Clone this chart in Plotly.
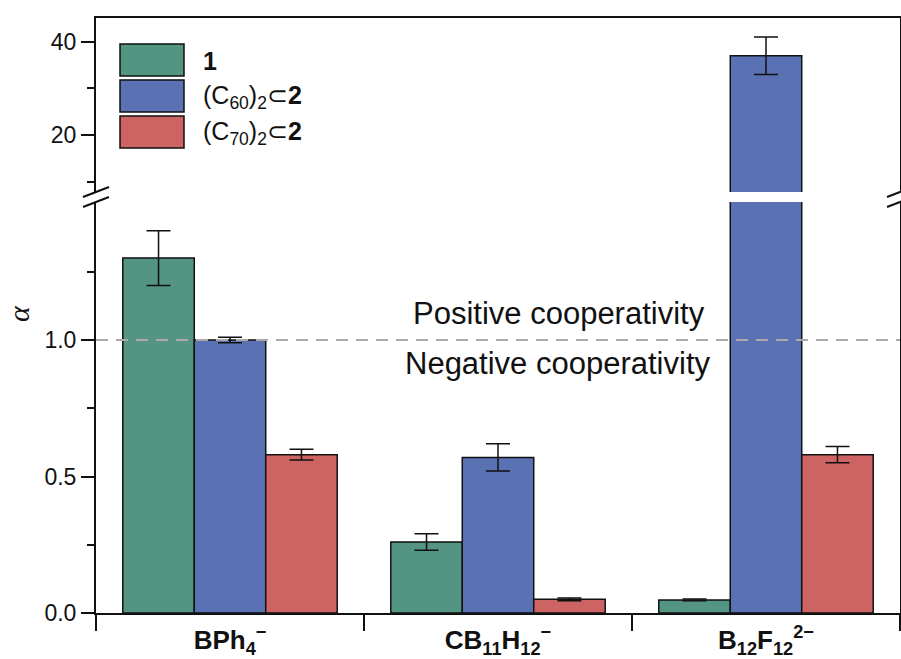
import plotly.graph_objects as go

# ---------------- data ----------------
categories = ["<b>BPh<sub>4</sub><sup>−</sup></b>",
              "<b>CB<sub>11</sub>H<sub>12</sub><sup>−</sup></b>",
              "<b>B<sub>12</sub>F<sub>12</sub><sup>2−</sup></b>"]
series_names = ["<b>1</b>",
                "(C<sub>60</sub>)<sub>2</sub>⊂<b>2</b>",
                "(C<sub>70</sub>)<sub>2</sub>⊂<b>2</b>"]
vals_1 = [1.30, 0.26, 0.048]
err_1 = [0.10, 0.03, 0.003]
vals_c60 = [1.00, 0.57, 37.0]
err_c60 = [0.01, 0.05, 4.0]
vals_c70 = [0.58, 0.05, 0.58]
err_c70 = [0.02, 0.005, 0.03]
colors = ["#539482", "#5A72B4", "#CD6363"]

lower_ticks = [0.0, 0.5, 1.0]
lower_ticktext = ["0.0", "0.5", "1.0"]
lower_minor = [0.25, 0.75, 1.25]
upper_ticks = [20, 40]
upper_minor = [10, 30]

# --------------- geometry helpers (pixel -> paper) ---------------
L, R, T, B = 96, 900, 18, 613
W, H = R - L, B - T


def px(x):
    return (x - L) / W


def py(y):
    return (B - y) / H


FONT = "Liberation Sans, Arial, sans-serif"
fig = go.Figure()

all_vals = [vals_1, vals_c60, vals_c70]
all_errs = [err_1, err_c60, err_c70]
for name, v, e, c in zip(series_names, all_vals, all_errs, colors):
    for xa, ya in (("x", "y"), ("x2", "y2")):
        fig.add_trace(go.Bar(
            x=categories, y=v, name=name, xaxis=xa, yaxis=ya,
            marker=dict(color=c, line=dict(color="#111111", width=1.5)),
            error_y=dict(type="data", array=e, color="#111111",
                         thickness=1.5, width=12),
            showlegend=False, cliponaxis=True,
        ))

axis_common = dict(showline=True, linecolor="#111111", linewidth=2,
                   showgrid=False, zeroline=False, automargin=False)

fig.update_layout(
    width=901, height=659,
    margin=dict(l=L, r=901 - R, t=T, b=659 - B, autoexpand=False),
    paper_bgcolor="white", plot_bgcolor="white",
    barmode="group", bargap=0.2, bargroupgap=0,
    font=dict(family=FONT, color="#111111", size=23),
    xaxis=dict(**axis_common, type="category", anchor="y",
               tickson="boundaries", ticks="outside", ticklen=16,
               tickwidth=2, tickcolor="#111111", ticklabelstandoff=3,
               tickfont=dict(size=26), domain=[0, 1]),
    xaxis2=dict(**axis_common, type="category", anchor="y2", matches="x",
                side="top", showticklabels=False, ticks=""),
    yaxis=dict(**axis_common, mirror=True, domain=[0, py(202)],
               range=[0, (B - 202) / 273.0], tickvals=lower_ticks,
               ticktext=lower_ticktext, ticks="outside", ticklen=13,
               tickwidth=2, tickcolor="#111111",
               minor=dict(tickvals=lower_minor, ticks="outside", ticklen=7,
                          tickwidth=2, tickcolor="#111111")),
    yaxis2=dict(**axis_common, mirror=True, domain=[py(192), 1],
                range=[7.8, 45.08], tickvals=upper_ticks, ticks="outside",
                ticklen=13, tickwidth=2, tickcolor="#111111",
                minor=dict(tickvals=upper_minor, ticks="outside", ticklen=7,
                           tickwidth=2, tickcolor="#111111")),
)

shapes = []
# dashed alpha = 1 line
shapes.append(dict(type="line", xref="paper", yref="y", x0=0, x1=1, y0=1, y1=1,
                   line=dict(color="#AAAAAA", width=2, dash="12px,8px"),
                   layer="above"))
# axis break marks
for x0 in (83, 887):
    for y0 in (197, 207):
        shapes.append(dict(type="line", xref="paper", yref="paper",
                           x0=px(x0), y0=py(y0), x1=px(x0 + 26), y1=py(y0 - 10),
                           line=dict(color="#111111", width=2)))
# legend boxes
box_y = [(44, 76), (80, 112), (116, 148)]
for (y0, y1), c in zip(box_y, colors):
    shapes.append(dict(type="rect", xref="paper", yref="paper",
                       x0=px(120), x1=px(184), y0=py(y1), y1=py(y0),
                       fillcolor=c, line=dict(color="#111111", width=1.5)))
fig.update_layout(shapes=shapes)

annotations = []
for (y0, y1), name in zip(box_y, series_names):
    annotations.append(dict(xref="paper", yref="paper", x=px(201),
                            y=py((y0 + y1) / 2 + 1), text=name, showarrow=False,
                            xanchor="left", yanchor="middle",
                            font=dict(size=25, family=FONT, color="#111111")))
annotations.append(dict(xref="paper", yref="paper", x=px(559), y=py(313),
                        text="Positive cooperativity", showarrow=False,
                        xanchor="center", yanchor="middle",
                        font=dict(size=31, family=FONT, color="#111111")))
annotations.append(dict(xref="paper", yref="paper", x=px(557), y=py(364),
                        text="Negative cooperativity", showarrow=False,
                        xanchor="center", yanchor="middle",
                        font=dict(size=31, family=FONT, color="#111111")))
annotations.append(dict(xref="paper", yref="paper", x=px(18), y=py(314),
                        text="<i>α</i>", showarrow=False, textangle=-90,
                        xanchor="center", yanchor="middle",
                        font=dict(size=30, family="Liberation Serif, serif",
                                  color="#111111")))
fig.update_layout(annotations=annotations)

fig.write_html(
    "out.html",
    config={"displayModeBar": False},
    post_script="document.body.style.margin='0';"
                "document.body.style.overflow='hidden';",
)
